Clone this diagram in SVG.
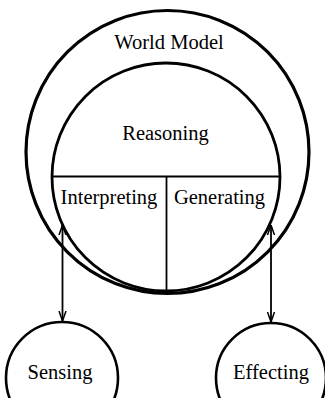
<svg xmlns="http://www.w3.org/2000/svg" width="325" height="398" viewBox="0 0 325 398">
<style>
.c{fill:none;stroke:#000;}
.ln{fill:none;stroke:#000;stroke-width:1.8;}
text{font-family:"Liberation Serif","Times New Roman",serif;font-size:20.5px;fill:#000;text-anchor:middle;}
</style>
<defs>
<marker id="ah" viewBox="0 0 10 10" refX="10" refY="5" markerWidth="10" markerHeight="10" markerUnits="userSpaceOnUse" orient="auto-start-reverse">
<path d="M0,1.5 L10,5 L0,8.5" fill="none" stroke="#000" stroke-width="1.5"/>
</marker>
</defs>
<rect width="325" height="398" fill="#fff"/>
<g id="world-model">
<circle class="c" cx="167.5" cy="152" r="141.5" stroke-width="3.2"/>
<text x="169" y="49">World Model</text>
</g>
<g id="reasoning">
<circle class="c" cx="166" cy="177" r="114" stroke-width="2.8"/>
<line class="ln" x1="52" y1="176.5" x2="280" y2="176.5"/>
<text x="165.5" y="140">Reasoning</text>
</g>
<g id="interpreting">
<line class="ln" x1="166.5" y1="176.5" x2="166.5" y2="291"/>
<text x="109" y="204">Interpreting</text>
</g>
<g id="generating">
<text x="219.5" y="204">Generating</text>
</g>
<g id="sensing">
<circle class="c" cx="62" cy="378" r="56" stroke-width="2.6"/>
<text x="60" y="379">Sensing</text>
</g>
<g id="effecting">
<circle class="c" cx="271" cy="378" r="55" stroke-width="2.6"/>
<text x="271" y="379">Effecting</text>
</g>
<g id="connectors">
<line class="ln" x1="62.5" y1="225" x2="62.5" y2="321" marker-start="url(#ah)" marker-end="url(#ah)"/>
<line class="ln" x1="271" y1="225" x2="271" y2="322" marker-start="url(#ah)" marker-end="url(#ah)"/>
</g>
</svg>
